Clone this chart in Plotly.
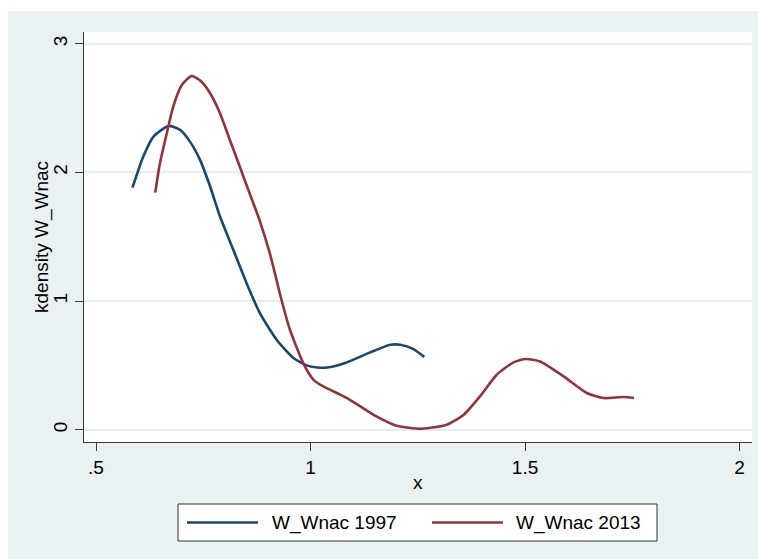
import plotly.graph_objects as go

# Kernel density estimates of W_Wnac, by year
series_names = ["W_Wnac 1997", "W_Wnac 2013"]

x_1997 = [0.585, 0.610, 0.634, 0.669, 0.696, 0.719, 0.7425, 0.766, 0.789, 0.820,
          0.851, 0.882, 0.921, 0.960, 0.991, 1.015, 1.038, 1.084, 1.139, 1.186,
          1.209, 1.240, 1.265]
y_1997 = [1.882, 2.122, 2.278, 2.361, 2.330, 2.239, 2.097, 1.890, 1.657, 1.398,
          1.139, 0.906, 0.699, 0.557, 0.500, 0.484, 0.483, 0.523, 0.601, 0.660,
          0.660, 0.627, 0.566]

x_2013 = [0.638, 0.649, 0.665, 0.680, 0.700, 0.723, 0.746, 0.766, 0.789, 0.812,
          0.834, 0.851, 0.882, 0.906, 0.933, 0.952, 0.983, 1.007, 1.030, 1.085,
          1.147, 1.201, 1.259, 1.318, 1.357, 1.395, 1.434, 1.473, 1.502, 1.535,
          1.590, 1.644, 1.683, 1.729, 1.754]
y_2013 = [1.843, 2.071, 2.304, 2.511, 2.679, 2.749, 2.705, 2.615, 2.460, 2.252,
          2.055, 1.900, 1.620, 1.360, 1.000, 0.777, 0.518, 0.388, 0.336, 0.246,
          0.116, 0.031, 0.008, 0.039, 0.116, 0.259, 0.427, 0.523, 0.549, 0.530,
          0.414, 0.285, 0.246, 0.254, 0.246]

x_tick_vals = [0.5, 1, 1.5, 2]
x_tick_text = [".5", "1", "1.5", "2"]
y_tick_vals = [0, 1, 2, 3]
y_tick_text = ["0", "1", "2", "3"]
x_title = "x"
y_title = "kdensity W_Wnac"

colors = ["#1A476F", "#90353B"]
REGION = "#EAF1F3"
GRID = "#E4ECEF"
AXIS = "#3A3A3A"
FONT = "Liberation Sans, Arial, sans-serif"

W, H = 758, 559
ML, MR, MT, MB = 84, 6, 32, 117
PW, PH = W - ML - MR, H - MT - MB


def px_x(px):
    return (px - ML) / PW


def px_y(py):
    return (H - MB - py) / PH


fig = go.Figure()
for xs, ys, name, c in zip([x_1997, x_2013], [y_1997, y_2013], series_names, colors):
    fig.add_trace(go.Scatter(x=xs, y=ys, mode="lines", name=name,
                             line=dict(color=c, width=2.6, shape="spline", smoothing=0.6)))

shapes = [
    # white strips around the graph region
    dict(type="rect", xref="paper", yref="paper", x0=px_x(0), x1=px_x(W), y0=px_y(11), y1=px_y(0),
         fillcolor="white", line=dict(width=0), layer="above"),
    dict(type="rect", xref="paper", yref="paper", x0=px_x(0), x1=px_x(8), y0=px_y(H), y1=px_y(0),
         fillcolor="white", line=dict(width=0), layer="above"),
    # legend box
    dict(type="rect", xref="paper", yref="paper", x0=px_x(178), x1=px_x(657), y0=px_y(541), y1=px_y(504),
         fillcolor="white", line=dict(color="#333333", width=1), layer="above"),
]
annotations = [
    dict(xref="paper", yref="paper", x=px_x(418), y=px_y(482), text=x_title, showarrow=False,
         xanchor="center", yanchor="middle", font=dict(family=FONT, size=19, color="black")),
    dict(xref="paper", yref="paper", x=px_x(42), y=px_y(237), text=y_title, showarrow=False,
         textangle=-90, xanchor="center", yanchor="middle",
         font=dict(family=FONT, size=19, color="black")),
]
legend_y = px_y(522.5)
for (lx0, lx1, tx), name, c in zip([(187, 258, 270), (432, 503, 514)], series_names, colors):
    shapes.append(dict(type="line", xref="paper", yref="paper", x0=px_x(lx0), x1=px_x(lx1),
                       y0=legend_y, y1=legend_y, line=dict(color=c, width=2.6), layer="above"))
    annotations.append(dict(xref="paper", yref="paper", x=px_x(tx), y=legend_y, text=name,
                            showarrow=False, xanchor="left", yanchor="middle",
                            font=dict(family=FONT, size=19, color="black")))

fig.update_layout(
    width=W, height=H,
    margin=dict(l=ML, r=MR, t=MT, b=MB),
    paper_bgcolor=REGION,
    plot_bgcolor="white",
    showlegend=False,
    font=dict(family=FONT, size=19, color="black"),
    shapes=shapes,
    annotations=annotations,
    xaxis=dict(range=[0.472, 2.029], tickvals=x_tick_vals, ticktext=x_tick_text,
               showgrid=False, zeroline=False, showline=True, linecolor=AXIS, linewidth=1.4,
               ticks="outside", ticklen=8, tickwidth=1.3, tickcolor=AXIS),
    yaxis=dict(range=[-0.0955, 3.091], tickvals=y_tick_vals, ticktext=y_tick_text,
               tickangle=-90, showgrid=True, gridcolor=GRID, gridwidth=2, zeroline=False,
               showline=True, linecolor=AXIS, linewidth=1.4,
               ticks="outside", ticklen=8, tickwidth=1.3, tickcolor=AXIS),
)

fig.write_html("out.html")
